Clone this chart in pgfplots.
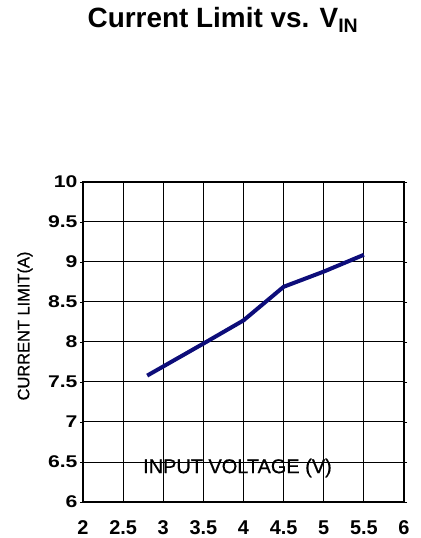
\documentclass[border=0pt]{standalone}
\usepackage{fontspec}
\setmainfont{Liberation Sans}
\newfontfamily\ywide[FakeStretch=1.25]{Liberation Sans}
\newfontfamily\lbl[FakeBold=0.6]{Liberation Sans}
\usepackage{pgfplots}
\pgfplotsset{compat=1.18}
\definecolor{navy}{HTML}{0D0D7A}
\begin{document}
\begin{tikzpicture}[x=1bp,y=1bp]
\path[use as bounding box] (0,0) rectangle (420,538);
\begin{axis}[
  at={(83bp,36bp)}, anchor=south west,
  scale only axis, width=321bp, height=320bp,
  xmin=2, xmax=6, ymin=6, ymax=10,
  xtick={2,2.5,...,6}, ytick={6,6.5,...,10},
  grid=major,
  grid style={black, line width=1pt},
  axis line style={black, line width=1.6pt},
  tick align=outside, major tick length=3bp,
  xtick style={draw=none},
  ytick style={black, line width=0.8pt},
  /pgf/number format/assume math mode=true,
  /pgf/number format/.cd, fixed, precision=1, /pgfplots/.cd,
  xticklabel style={font=\fontsize{20}{20}\selectfont\bfseries, yshift=-12bp},
  yticklabel style={font=\fontsize{17}{17}\ywide\bfseries, xshift=1bp},
  xlabel={INPUT VOLTAGE (V)},
  xlabel style={at={(axis cs:3.925,6.425)}, anchor=center, font=\fontsize{20}{20}\lbl},
  clip=false,
]
\addplot[navy, line width=4bp, line join=round] coordinates {
(2.8,7.58) (3.5,7.98) (4,8.27) (4.5,8.69) (5,8.88) (5.5,9.09)
};
\end{axis}
\node[rotate=90, font=\fontsize{16.5}{16.5}\lbl] at (25,212) {CURRENT LIMIT(A)};
\node[font=\fontsize{28}{28}\selectfont\bfseries] at (223,518) {Current Limit vs. V\textsubscript{IN}};
\end{tikzpicture}
\end{document}
